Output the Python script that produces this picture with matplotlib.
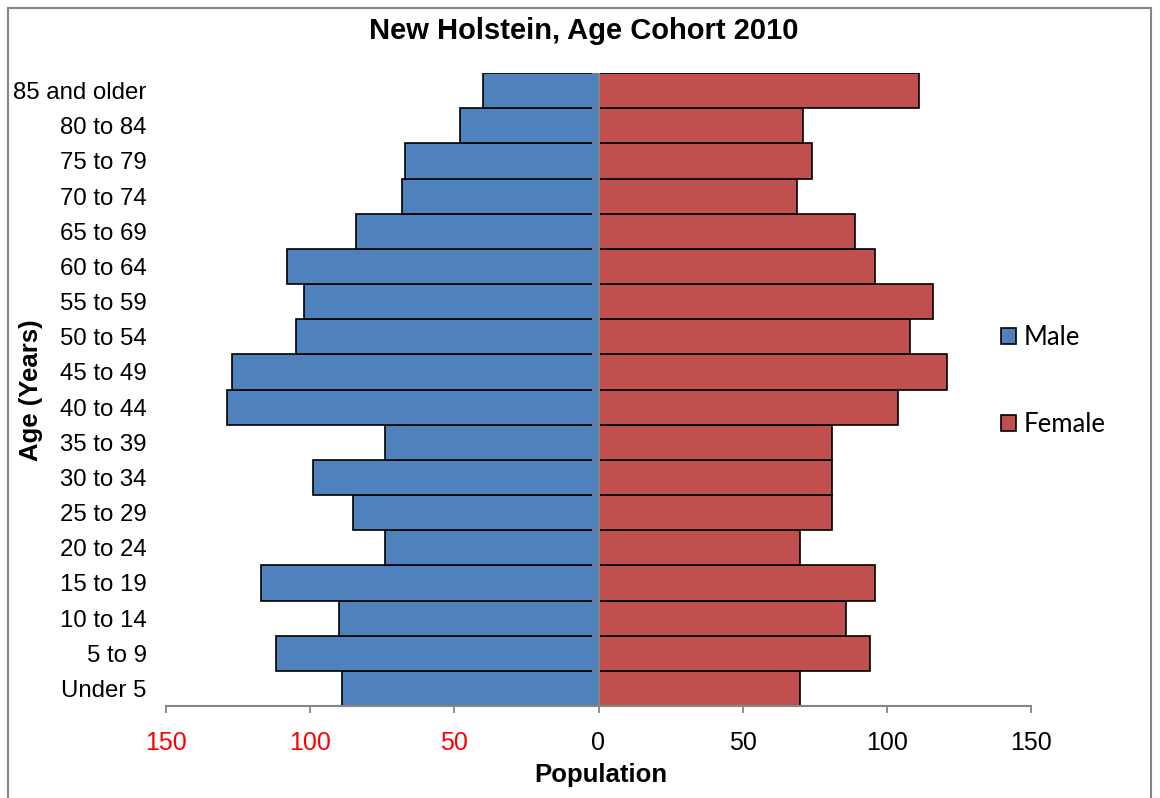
import numpy as np
import matplotlib
matplotlib.use('Agg')
import matplotlib.pyplot as plt
from matplotlib.patches import Rectangle

plt.rcParams['font.family'] = ['Liberation Sans', 'DejaVu Sans']

# data, bottom row first
age_groups = ['Under 5', '5 to 9', '10 to 14', '15 to 19', '20 to 24', '25 to 29',
              '30 to 34', '35 to 39', '40 to 44', '45 to 49', '50 to 54', '55 to 59',
              '60 to 64', '65 to 69', '70 to 74', '75 to 79', '80 to 84', '85 and older']
male = [89, 112, 90, 117, 74, 85, 99, 74, 129, 127, 105, 102, 108, 84, 68, 67, 48, 40]
female = [70, 94, 86, 96, 70, 81, 81, 81, 104, 121, 108, 116, 96, 89, 69, 74, 71, 111]
x_ticks = [-150, -100, -50, 0, 50, 100, 150]

male_color = '#4F81BD'
female_color = '#C0504D'
axis_gray = '#868686'

fig = plt.figure(figsize=(11.6, 7.98), dpi=100)
ax = fig.add_axes([166 / 1160, 1 - 706 / 798, (1031 - 166) / 1160, (706 - 73) / 798])

y = np.arange(len(age_groups))
b_m = ax.barh(y, -np.array(male), height=1.0, color=male_color,
              edgecolor='black', linewidth=1.2, label='Male')
b_f = ax.barh(y, female, height=1.0, color=female_color,
              edgecolor='black', linewidth=1.2, label='Female')

ax.set_xlim(-150, 150)
ax.set_ylim(-0.5, len(age_groups) - 0.5)

# category axis sits at zero
ax.axvline(0, color=axis_gray, lw=1.5, zorder=5)
ax.hlines(np.arange(len(age_groups) + 1) - 0.5, -2.3, 0, color=axis_gray, lw=1.3, zorder=5)

for s in ['top', 'right', 'left']:
    ax.spines[s].set_visible(False)
ax.spines['bottom'].set_color(axis_gray)
ax.spines['bottom'].set_linewidth(1.5)

ax.set_yticks(y)
ax.set_yticklabels(age_groups, fontsize=17.3)
ax.tick_params(axis='y', length=0, pad=14)

ax.set_xticks(x_ticks)
ax.set_xticklabels([str(abs(v)) for v in x_ticks], fontsize=18)
ax.tick_params(axis='x', length=5, width=1.3, color=axis_gray, pad=13)
for lbl, v in zip(ax.get_xticklabels(), x_ticks):
    if v < 0:
        lbl.set_color('red')

fig.text(584 / 1160, 1 - 31 / 798, 'New Holstein, Age Cohort 2010', fontsize=21,
         fontweight='bold', ha='center', va='center')
fig.text(601 / 1160, 1 - 775 / 798, 'Population', fontsize=18.5,
         fontweight='bold', ha='center', va='center')
fig.text(31 / 1160, 1 - 390 / 798, 'Age (Years)', fontsize=18.5,
         fontweight='bold', ha='center', va='center', rotation=90)

leg = fig.legend(handles=[b_m, b_f], loc='center left',
                 bbox_to_anchor=(1001 / 1160, 1 - 381 / 798), frameon=False,
                 labelspacing=2.4, handlelength=0.6, handleheight=0.6,
                 handletextpad=0.3, borderpad=0, borderaxespad=0,
                 prop={'family': ['Lato', 'DejaVu Sans'], 'size': 18.5})

# outer chart border
fig.patches.append(Rectangle((8 / 1160, -0.01), (1151 - 8) / 1160, 1 - 8 / 798 + 0.01,
                             transform=fig.transFigure, fill=False,
                             edgecolor=axis_gray, lw=1.5))

fig.savefig('out.png', dpi=100)
